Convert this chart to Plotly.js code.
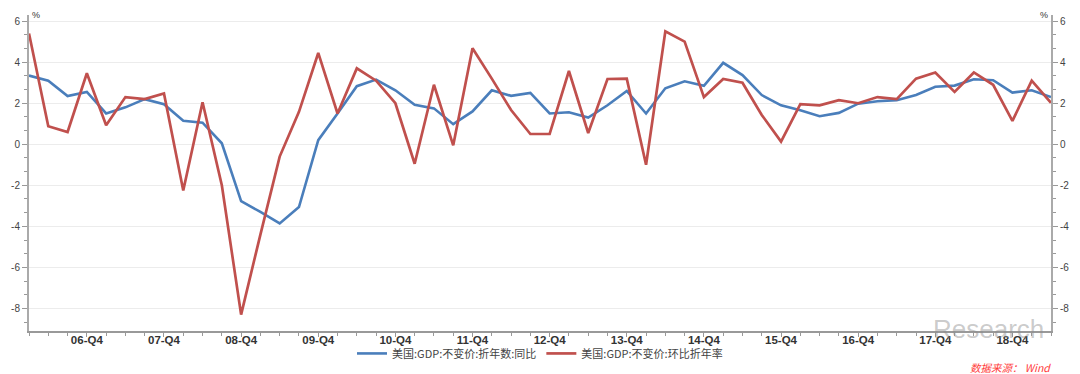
<!DOCTYPE html>
<html>
<head>
<meta charset="utf-8">
<script src="https://cdn.plot.ly/plotly-3.0.1.min.js"></script>
<style>
html,body{margin:0;padding:0;background:#fff;}
#chart{width:1080px;height:374px;}
</style>
</head>
<body>
<div id="chart"></div>
<script>
// Quarters 2006-Q1 .. 2019-Q2
var quarters = [
 '06-Q1','06-Q2','06-Q3','06-Q4','07-Q1','07-Q2','07-Q3','07-Q4',
 '08-Q1','08-Q2','08-Q3','08-Q4','09-Q1','09-Q2','09-Q3','09-Q4',
 '10-Q1','10-Q2','10-Q3','10-Q4','11-Q1','11-Q2','11-Q3','11-Q4',
 '12-Q1','12-Q2','12-Q3','12-Q4','13-Q1','13-Q2','13-Q3','13-Q4',
 '14-Q1','14-Q2','14-Q3','14-Q4','15-Q1','15-Q2','15-Q3','15-Q4',
 '16-Q1','16-Q2','16-Q3','16-Q4','17-Q1','17-Q2','17-Q3','17-Q4',
 '18-Q1','18-Q2','18-Q3','18-Q4','19-Q1','19-Q2'
];
// 美国:GDP:不变价:折年数:同比 (%)
var gdpYoY = [
 3.35, 3.1, 2.35, 2.55, 1.5, 1.8, 2.2, 1.95,
 1.15, 1.05, 0.05, -2.77, -3.3, -3.86, -3.06, 0.2,
 1.5, 2.83, 3.15, 2.63, 1.93, 1.75, 0.98, 1.6,
 2.63, 2.36, 2.5, 1.5, 1.56, 1.3, 1.9, 2.6,
 1.5, 2.73, 3.07, 2.85, 3.97, 3.37, 2.4, 1.9,
 1.66, 1.37, 1.53, 1.98, 2.1, 2.15, 2.4, 2.8,
 2.86, 3.17, 3.12, 2.52, 2.63, 2.3
];
// 美国:GDP:不变价:环比折年率 (%)
var gdpQoQ = [
 5.4, 0.88, 0.6, 3.46, 0.93, 2.3, 2.2, 2.48,
 -2.25, 2.05, -2.0, -8.3, -4.4, -0.6, 1.58, 4.45,
 1.5, 3.7, 3.1, 2.0, -0.95, 2.9, -0.05, 4.68,
 3.2, 1.67, 0.5, 0.5, 3.57, 0.55, 3.18, 3.2,
 -1.0, 5.5, 5.0, 2.3, 3.18, 3.0, 1.43, 0.13,
 1.96, 1.9, 2.15, 2.0, 2.3, 2.2, 3.2, 3.5,
 2.55, 3.5, 2.9, 1.14, 3.1, 2.02
];
var yTickVals = [-8, -6, -4, -2, 0, 2, 4, 6];
var yTickText = ['-8', '-6', '-4', '-2', '0', '2', '4', '6'];
var seriesNames = ['美国:GDP:不变价:折年数:同比', '美国:GDP:不变价:环比折年率'];

var xIdx = quarters.map(function (q, i) { return i; });
var xTickVals = [], xTickText = [];
quarters.forEach(function (q, i) {
  if (q.slice(-2) === 'Q4') { xTickVals.push(i); xTickText.push(q); }
});

var traces = [
  {x: xIdx, y: gdpYoY, type: 'scatter', mode: 'lines', name: seriesNames[0],
   line: {color: '#4a7ebb', width: 2.6}, yaxis: 'y'},
  {x: xIdx, y: gdpQoQ, type: 'scatter', mode: 'lines', name: seriesNames[1],
   line: {color: '#c0504d', width: 2.7}, yaxis: 'y2'}
];

var yRange = [-9.1, 6.3];
var tickFont = {family: 'Liberation Sans, Arial, sans-serif', size: 10, color: '#444'};

var layout = {
  width: 1080, height: 374,
  margin: {l: 29, r: 29, t: 15, b: 43, pad: 0},
  paper_bgcolor: '#fff', plot_bgcolor: '#fff',
  showlegend: true,
  legend: {orientation: 'h', xref: 'paper', x: 0.5, xanchor: 'center',
           yref: 'container', y: 0.055, yanchor: 'middle',
           bgcolor: 'rgba(0,0,0,0)',
           font: {family: 'Noto Sans CJK SC, sans-serif', size: 11, color: '#444'},
           itemwidth: 30, tracegroupgap: 0},
  xaxis: {
    range: [0, 53], tickmode: 'array', tickvals: xTickVals, ticktext: xTickText,
    showgrid: false, zeroline: false, showline: true, linecolor: '#999', linewidth: 2,
    ticks: 'outside', ticklen: 4, tickcolor: '#999', tickwidth: 1, ticklabelstandoff: -7,
    tickfont: {family: 'Liberation Sans, Arial, sans-serif', size: 11.5, color: '#333', weight: 'bold'},
    minor: {tickmode: 'linear', tick0: 0, dtick: 1, ticks: 'outside', ticklen: 3, tickcolor: '#999', showgrid: false},
    automargin: false, fixedrange: true
  },
  yaxis: {
    range: yRange, tickmode: 'array', tickvals: yTickVals, ticktext: yTickText,
    showgrid: true, gridcolor: '#ececec', gridwidth: 1, zeroline: false,
    showline: true, linecolor: '#aaa', linewidth: 2, automargin: false,
    ticks: 'outside', ticklen: 5, tickcolor: '#999', tickfont: tickFont,
    minor: {tickmode: 'linear', tick0: 0, dtick: 2/3, ticks: 'outside', ticklen: 3, tickcolor: '#999', showgrid: false}
  },
  yaxis2: {
    range: yRange, overlaying: 'y', side: 'right', tickmode: 'array', tickvals: yTickVals, ticktext: yTickText,
    showgrid: false, zeroline: false, showline: true, linecolor: '#aaa', linewidth: 2, automargin: false,
    ticks: 'outside', ticklen: 5, tickcolor: '#999', tickfont: tickFont,
    minor: {tickmode: 'linear', tick0: 0, dtick: 2/3, ticks: 'outside', ticklen: 3, tickcolor: '#999', showgrid: false}
  },
  annotations: [
    {text: '%', xref: 'paper', yref: 'paper', x: 0.001, y: 1.0, xanchor: 'left', yanchor: 'middle',
     showarrow: false, font: {family: 'Liberation Sans, Arial, sans-serif', size: 9, color: '#333'}},
    {text: '%', xref: 'paper', yref: 'paper', x: 0.999, y: 1.0, xanchor: 'right', yanchor: 'middle',
     showarrow: false, font: {family: 'Liberation Sans, Arial, sans-serif', size: 9, color: '#333'}},
    {text: 'Research', xref: 'paper', yref: 'paper', x: 0.883, y: 0.006, xanchor: 'left', yanchor: 'middle',
     showarrow: false, font: {family: 'Liberation Sans, Arial, sans-serif', size: 26, color: 'rgba(140,140,140,0.45)'}},
    {text: '<i>数据来源： Wind</i>', xref: 'paper', yref: 'paper', x: 1.002, y: -0.114, xanchor: 'right', yanchor: 'middle',
     showarrow: false, font: {family: 'Noto Sans CJK SC, sans-serif', size: 10.5, color: '#ff3b3b'}}
  ]
};

Plotly.newPlot('chart', traces, layout, {displayModeBar: false, staticPlot: true});
</script>
</body>
</html>
